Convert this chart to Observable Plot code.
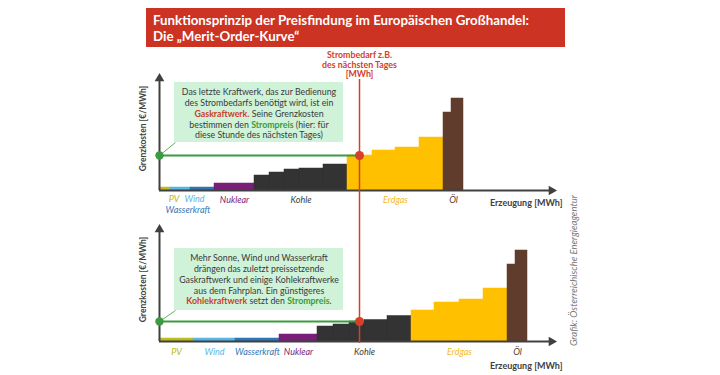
<!DOCTYPE html>
<html>
<head>
<meta charset="utf-8">
<script src="https://cdn.jsdelivr.net/npm/d3@7"></script>
<script src="https://cdn.jsdelivr.net/npm/@observablehq/plot@0.6"></script>
<style>
  html, body { margin: 0; padding: 0; background: #fff; }
  #wrap { width: 720px; height: 375px; position: relative; overflow: hidden; font-family: Lato, sans-serif; }
  #head { position: relative; height: 50px; }
  #titlebox { position: absolute; left: 146px; top: 8px; width: 419px; height: 39px; background: #cc3322;
    color: #fff; font-weight: bold; font-size: 13.3px; line-height: 16px; padding: 4px 0 0 7px; box-sizing: border-box;
    font-family: Lato, sans-serif; white-space: nowrap; }
  svg { display: block; }
</style>
</head>
<body>
<div id="wrap">
  <div id="head"><div id="titlebox">Funktionsprinzip der Preisfindung im Europäischen Großhandel:<br>Die „Merit-Order-Kurve“</div></div>
  <div id="chart"></div>
</div>
<script>
// ---------- data ----------
const panels = ["oben", "unten"];
const categories = ["PV","Wind","Wasserkraft","Nuklear","Kohle","Kohle","Kohle","Kohle","Kohle","Erdgas","Erdgas","Erdgas","Erdgas","Öl","Öl"];
const topWidths = [11,20,24,40,15,15,15,24,24,25,23,24,24,8,12];
const topCosts  = [3,3,3,7,15,18,21,22,26,35,40,43,53,78,92];
const bottomWidths = [34,42,44,38,16,16,15,23,24,23,25,24,24,8,12];
const bottomCosts  = [3,3,3,7,15,17,20,21.5,25.5,31,39,42,53,77,91];
const demand = 200;
const topNote = [
  "Das letzte Kraftwerk, das zur Bedienung",
  "des Strombedarfs benötigt wird, ist ein",
  "[r]Gaskraftwerk.[/] Seine Grenzkosten",
  "bestimmen den [g]Strompreis[/] (hier: für",
  "diese Stunde des nächsten Tages)"
];
const bottomNote = [
  "Mehr Sonne, Wind und Wasserkraft",
  "drängen das zuletzt preissetzende",
  "Gaskraftwerk und einige Kohlekraftwerke",
  "aus dem Fahrplan. Ein günstigeres",
  "[r]Kohlekraftwerk[/] setzt den [g]Strompreis[/]."
];
const demandLabel = ["Strombedarf z.B.", "des nächsten Tages", "[MWh]"];
const yLabel = "Grenzkosten [€/MWh]";
const xLabel = "Erzeugung [MWh]";
const caption = "Grafik: Österreichische Energieagentur";

// ---------- styles / layout ----------
const barColors = {PV:"#bdbd1f", Wind:"#5ab4e6", Wasserkraft:"#2f75b5", Nuklear:"#7a1f78", Kohle:"#333333", Erdgas:"#ffc000", "Öl":"#603c2d"};
const labelColors = {PV:"#b9ba10", Wind:"#5ab4e6", Wasserkraft:"#2f75b5", Nuklear:"#7a1f78", Kohle:"#404040", Erdgas:"#f6b926", "Öl":"#603c2d"};
const RED = "#d5402a", GREEN = "#3a9c3e", AXIS = "#404040", TXT = "#3a3a3a";
const layout = {
  oben:  {box:[15,184,48,108], textTop:98, red:[-36,111], ergY:-13, labelY:-10, shift:{PV:[9,-1.5], Wind:[14,-1.5], Wasserkraft:[-14.5,10]}},
  unten: {box:[15,184,31,93],  textTop:83, red:[-2,115],  ergY:-25, labelY:-11, shift:{}}
};

// ---------- derived tables ----------
function rows(panel, widths, costs) {
  let x = 0;
  return categories.map((c, i) => { const r = {panel, cat:c, x1:x, x2:x + widths[i], cost:costs[i]}; x += widths[i]; return r; });
}
const bars = [...rows("oben", topWidths, topCosts), ...rows("unten", bottomWidths, bottomCosts)];
const prices = panels.map(p => {
  const b = bars.find(d => d.panel === p && d.x1 <= demand && d.x2 > demand);
  return {panel:p, price:b.cost};
});
const catLabels = panels.flatMap(p => {
  const cats = [...new Set(categories)];
  return cats.map(c => {
    const bs = bars.filter(d => d.panel === p && d.cat === c);
    const s = layout[p].shift[c] || [0,0];
    return {panel:p, cat:c, x:(d3.min(bs, d=>d.x1) + d3.max(bs, d=>d.x2))/2 + s[0], y:layout[p].labelY - s[1]};
  });
});
const noteLines = [
  ...topNote.map((t,i) => ({panel:"oben", text:t, y:layout.oben.textTop - i*10.75})),
  ...bottomNote.map((t,i) => ({panel:"unten", text:t, y:layout.unten.textTop - i*10.75}))
];
const boxes = panels.map(p => ({panel:p, x1:layout[p].box[0], x2:layout[p].box[1], y1:layout[p].box[2], y2:layout[p].box[3]}));
const links = panels.map((p,i) => ({panel:p, y1:prices[i].price, y2:layout[p].box[2]}));
const redRules = panels.map(p => ({panel:p, y1:layout[p].red[0], y2:layout[p].red[1]}));
const P = panels.map(p => ({panel:p}));

const chart = Plot.plot({
  width: 720, height: 325,
  marginLeft: 159, marginRight: 163, marginTop: 25, marginBottom: 34,
  facet: {marginTop: 0, marginBottom: 0, marginLeft: 159, marginRight: 163},
  x: {domain:[0,398], axis:null},
  y: {domain:[0,115], axis:null},
  fy: {domain: panels, axis:null, paddingInner:0.2384, paddingOuter:0, round:false},
  color: {type:"identity"},
  style: {fontFamily:"Lato, sans-serif", fontSize:"10px", background:"transparent", overflow:"visible"},
  marks: [
    Plot.rect(boxes, {x1:"x1", x2:"x2", y1:"y1", y2:"y2", fy:"panel", fill:"#cff2d8"}),
    Plot.link(links, {x1:0, x2:16, y1:"y1", y2:"y2", fy:"panel", stroke:GREEN, strokeWidth:0.8}),
    Plot.text(noteLines, {x:99.5, y:"y", text:"text", fy:"panel", fill:TXT, fontSize:8.8}),
    Plot.rectY(bars, {x1:"x1", x2:"x2", y1:0, y2:"cost", fy:"panel", fill:d => barColors[d.cat], stroke:d => barColors[d.cat], strokeWidth:0.5}),
    Plot.ruleY(prices, {y:"price", x1:0, x2:demand, fy:"panel", stroke:GREEN, strokeWidth:2}),
    Plot.ruleY(P, {y:0, x1:0, x2:392, fy:"panel", stroke:AXIS, strokeWidth:2}),
    Plot.ruleX(P, {x:0, y1:0, y2:112, fy:"panel", stroke:AXIS, strokeWidth:2}),
    Plot.dot(P, {x:392, y:0, fy:"panel", symbol:"triangle", r:3.6, rotate:90, fill:AXIS}),
    Plot.dot(P, {x:0, y:112, fy:"panel", symbol:"triangle", r:3.6, fill:AXIS}),
    Plot.ruleX(redRules, {x:demand, y1:"y1", y2:"y2", fy:"panel", stroke:RED, strokeWidth:1.5}),
    Plot.dot(prices, {x:0, y:"price", fy:"panel", r:4.2, fill:GREEN}),
    Plot.dot(prices, {x:demand, y:"price", fy:"panel", r:4.5, fill:RED}),
    Plot.text(demandLabel.map((t,i) => ({panel:"oben", text:t, y:[135,125.5,116][i]})), {x:demand, y:"y", text:"text", fy:"panel", fill:RED, fontSize:8.8, fontWeight:"bold"}),
    Plot.text(catLabels, {x:"x", y:"y", text:"cat", fy:"panel", fill:d => labelColors[d.cat], fontSize:9, fontStyle:"italic"}),
    Plot.text(panels.map(p => ({panel:p, y:layout[p].ergY})), {x:403, y:"y", text:() => xLabel, fy:"panel", textAnchor:"end", fill:AXIS, fontSize:9, fontWeight:"bold"}),
    Plot.text(P, {x:-16, y:62, text:() => yLabel, fy:"panel", rotate:-90, fill:AXIS, fontSize:8.5, fontWeight:"bold"}),
    Plot.text([{panel:"unten"}], {x:414, y:71, text:() => caption, fy:"panel", rotate:-90, fill:"#777", fontSize:9.5, fontStyle:"italic"})
  ]
});

// coloured keywords inside the note lines
d3.select(chart).selectAll("text").each(function() {
  const t = this.textContent;
  if (!/\[(r|g)\]/.test(t)) return;
  const sel = d3.select(this);
  const parts = t.split(/(\[[rg]\].*?\[\/\])/).filter(s => s);
  sel.text(null);
  for (const p of parts) {
    const m = p.match(/^\[([rg])\](.*)\[\/\]$/);
    const ts = sel.append("tspan").text(m ? m[2] : p);
    if (m) ts.attr("fill", m[1] === "r" ? "#c8402a" : "#3a9a3a").attr("font-weight", "bold");
  }
});
document.getElementById("chart").appendChild(chart);
</script>
</body>
</html>
